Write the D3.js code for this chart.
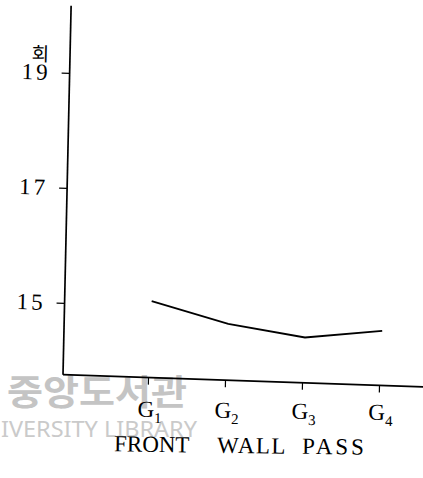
<!DOCTYPE html>
<html>
<head>
<meta charset="utf-8">
<script src="https://cdn.jsdelivr.net/npm/d3@7"></script>
<style>
body { margin: 0; background: #fff; }
</style>
</head>
<body>
<div id="chart"></div>
<script>
var canvasWidth = 423;
var canvasHeight = 478;

// data
var groups = ["1", "2", "3", "4"];          // G subscripts
var counts = [15.08, 14.73, 14.54, 14.70];
var yTicks = [15, 17, 19];
var yUnit = "회";
var xTitle = ["FRONT", "WALL", "PASS"];

var svg = d3.select("#chart")
    .append("svg")
    .attr("width", canvasWidth)
    .attr("height", canvasHeight);

/*library watermark from the scan, behind the chart*/
svg.append("text")
    .attr("x", 7)
    .attr("y", 405)
    .attr("fill", "#c4c4c4")
    .attr("font-family", "Noto Sans CJK KR")
    .attr("font-weight", "bold")
    .attr("font-size", 35)
    .attr("textLength", 180)
    .attr("lengthAdjust", "spacingAndGlyphs")
    .text("중앙도서관");
svg.append("text")
    .attr("x", 1)
    .attr("y", 437)
    .attr("fill", "#cacaca")
    .attr("font-family", "Noto Sans")
    .attr("font-size", 21)
    .attr("textLength", 196)
    .attr("lengthAdjust", "spacingAndGlyphs")
    .text("IVERSITY  LIBRARY");

var width = 365;
var height = 369;

/*the scanned page is skewed a little, so the plot frame is too*/
var container = svg.append("g")
    .attr("transform", "matrix(1,0.034,-0.022,1,63,374.7) translate(0," + (-height) + ")");
/*labels under the axis are tilted less*/
var labels = svg.append("g")
    .attr("transform", "translate(63,374.7) rotate(0.75)");

var yScale = d3.scaleLinear()
    .domain([13.75, 13.75 + height / 57.5])
    .range([height, 0]);
var xScale = d3.scalePoint()
    .domain(groups)
    .range([87, 318]);

/*Y axis*/
var gy = container.append("g")
    .call(d3.axisLeft(yScale).tickValues(yTicks).tickFormat(d3.format("d"))
        .tickSize(8).tickSizeOuter(0).tickPadding(11));
gy.select(".domain").remove();
gy.selectAll(".tick line").attr("stroke", "#000").attr("stroke-width", 1.3);
gy.selectAll(".tick text")
    .attr("font-family", "Liberation Serif")
    .attr("font-size", 23)
    .attr("letter-spacing", 3)
    .attr("fill", "#000");

container.append("text")
    .attr("x", -21)
    .attr("y", yScale(19) - 11)
    .attr("text-anchor", "end")
    .attr("font-family", "Noto Sans CJK KR")
    .attr("font-size", 19)
    .attr("fill", "#000")
    .text(yUnit);

/*X axis*/
var gx = container.append("g")
    .attr("transform", "translate(-2," + height + ")")
    .call(d3.axisBottom(xScale).tickSize(7).tickSizeOuter(0).tickFormat(""));
gx.select(".domain").remove();
gx.selectAll(".tick line").attr("stroke", "#000").attr("stroke-width", 1.2);

labels.selectAll(".glabel")
    .data(groups)
    .join("text")
    .attr("class", "glabel")
    .attr("x", function(d) { return xScale(d); })
    .attr("y", 41)
    .attr("text-anchor", "middle")
    .attr("font-family", "Liberation Serif")
    .attr("font-size", 23)
    .attr("fill", "#000")
    .each(function(d) {
        var t = d3.select(this);
        t.append("tspan").text("G");
        t.append("tspan").attr("dy", 6).attr("font-size", 15).text(d);
    });

/*axis title, words spaced as on the scan*/
var wordX = [52, 155, 240];
var wordSpacing = [0, 1.5, 3];
labels.append("text")
    .attr("y", 76)
    .attr("font-family", "Liberation Serif")
    .attr("font-size", 23)
    .attr("fill", "#000")
    .selectAll("tspan")
    .data(xTitle)
    .join("tspan")
    .attr("x", function(d, i) { return wordX[i]; })
    .attr("letter-spacing", function(d, i) { return wordSpacing[i]; })
    .text(function(d) { return d; });

/*axis lines*/
container.append("line")
    .attr("x1", 0).attr("x2", 0)
    .attr("y1", yScale.range()[0]).attr("y2", yScale.range()[1])
    .attr("stroke", "#000").attr("stroke-width", 1.7);
container.append("line")
    .attr("x1", 0).attr("x2", width)
    .attr("y1", height).attr("y2", height)
    .attr("stroke", "#000").attr("stroke-width", 1.7);

/*the line*/
container.append("path")
    .datum(counts)
    .attr("fill", "none")
    .attr("stroke", "#000")
    .attr("stroke-width", 1.9)
    .attr("d", d3.line()
        .x(function(d, i) { return xScale(groups[i]); })
        .y(function(d) { return yScale(d); }));
</script>
</body>
</html>
